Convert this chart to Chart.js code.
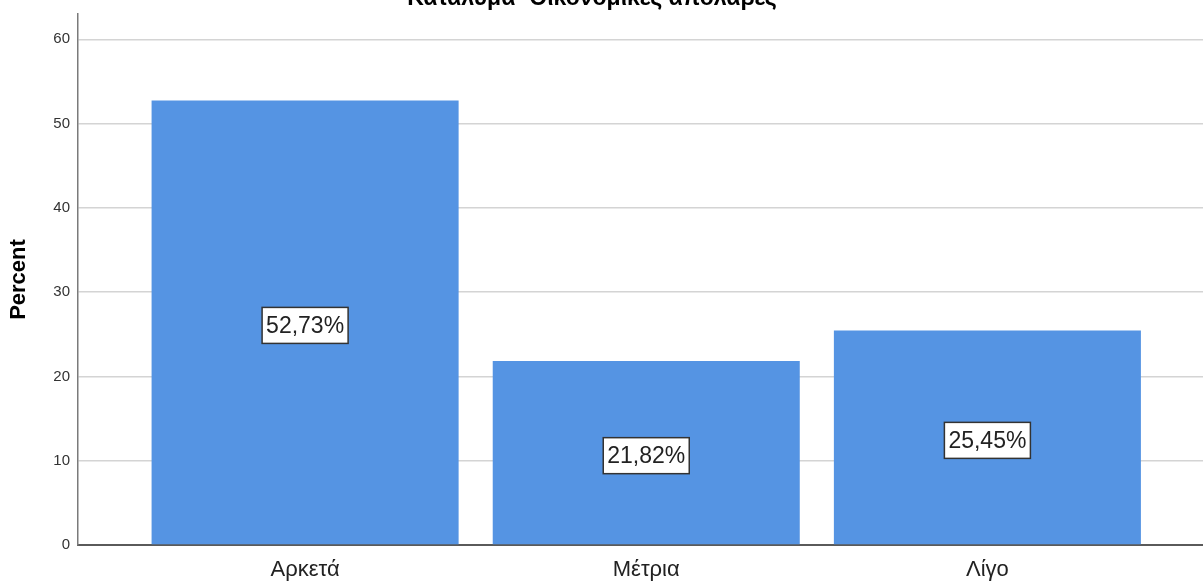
<!DOCTYPE html>
<html lang="el">
<head>
    <meta charset="UTF-8">
    <title>Κατάλυμα- Οικονομικές απολαβές</title>
    <script src="https://cdn.jsdelivr.net/npm/chart.js"></script>
    <style>
        html, body { margin: 0; padding: 0; background: #fff; }
        .frame { position: relative; width: 1203px; height: 581px; overflow: hidden; }
        #chart { position: absolute; left: 0; top: -20px; }
    </style>
</head>
<body>
    <div class="frame">
        <canvas id="chart" width="1203" height="601"></canvas>
    </div>

    <script>
        const chartTitle = 'Κατάλυμα- Οικονομικές απολαβές';
        const categories = ['Αρκετά', 'Μέτρια', 'Λίγο'];
        const percents = [52.73, 21.82, 25.45];
        const yTicks = [0, 10, 20, 30, 40, 50, 60];

        const barColor = '#5594e3';
        const fontFamily = '"Liberation Sans", Arial, sans-serif';

        // title sits mostly above the visible frame, like in the original export
        const titlePlugin = {
            id: 'clippedTitle',
            afterDraw(chart) {
                const ctx = chart.ctx;
                ctx.save();
                ctx.font = 'bold 23px ' + fontFamily;
                ctx.fillStyle = '#000';
                ctx.textAlign = 'center';
                ctx.textBaseline = 'alphabetic';
                ctx.fillText(chartTitle, 592, 25);
                ctx.restore();
            }
        };

        // boxed percentage labels in the middle of each bar
        const valueLabels = {
            id: 'valueLabels',
            afterDatasetsDraw(chart) {
                const ctx = chart.ctx;
                const meta = chart.getDatasetMeta(0);
                ctx.save();
                ctx.font = '23px ' + fontFamily;
                ctx.textAlign = 'center';
                ctx.textBaseline = 'middle';
                meta.data.forEach((bar, i) => {
                    const text = percents[i].toFixed(2).replace('.', ',') + '%';
                    const w = ctx.measureText(text).width + 8;
                    const h = 36;
                    const cx = bar.x;
                    const cy = (bar.y + bar.base) / 2 + 3;
                    ctx.fillStyle = '#fff';
                    ctx.fillRect(cx - w / 2, cy - h / 2, w, h);
                    ctx.strokeStyle = '#333';
                    ctx.lineWidth = 1.5;
                    ctx.strokeRect(cx - w / 2, cy - h / 2, w, h);
                    ctx.fillStyle = '#222';
                    ctx.fillText(text, cx, cy + 1);
                });
                ctx.restore();
            }
        };

        const ctx = document.getElementById('chart').getContext('2d');
        new Chart(ctx, {
            type: 'bar',
            data: {
                datasets: [{
                    data: percents.map((p, i) => ({ x: i, y: p })),
                    backgroundColor: barColor,
                    borderWidth: 0,
                    barPercentage: 0.9,
                    categoryPercentage: 1
                }]
            },
            options: {
                responsive: false,
                animation: false,
                layout: { padding: { top: 34, left: 0, right: 0, bottom: 0 } },
                plugins: {
                    legend: { display: false },
                    tooltip: { enabled: false }
                },
                scales: {
                    x: {
                        type: 'linear',
                        offset: false,
                        min: -0.6657,
                        max: 2.632,
                        grid: { display: false, drawTicks: false },
                        border: { display: true, color: '#5a5a5a', width: 2 },
                        afterBuildTicks: (axis) => {
                            axis.ticks = categories.map((c, i) => ({ value: i }));
                        },
                        afterFit: (axis) => { axis.height = 36; },
                        ticks: {
                            padding: 12,
                            color: '#222',
                            font: { family: fontFamily, size: 22 },
                            maxRotation: 0,
                            autoSkip: false,
                            callback: (v) => categories[v]
                        }
                    },
                    y: {
                        min: 0,
                        max: 63,
                        afterBuildTicks: (axis) => {
                            axis.ticks = yTicks.map(v => ({ value: v }));
                        },
                        afterFit: (axis) => { axis.width = 78; },
                        grid: { color: '#d4d4d4', lineWidth: 1.5, drawTicks: false },
                        border: { display: true, color: '#7a7a7a', width: 1.5 },
                        ticks: {
                            padding: 8,
                            color: '#333',
                            font: { family: fontFamily, size: 15 }
                        },
                        title: {
                            display: true,
                            text: 'Percent',
                            color: '#000',
                            font: { family: fontFamily, size: 22, weight: 'bold' },
                            padding: { top: 6, bottom: 0 }
                        }
                    }
                }
            },
            plugins: [valueLabels, titlePlugin]
        });
    </script>
</body>
</html>
